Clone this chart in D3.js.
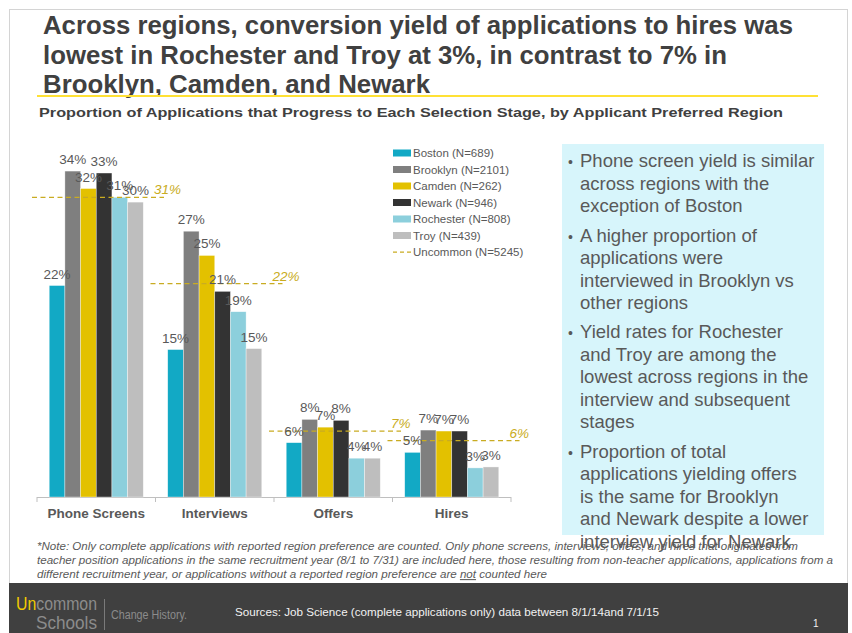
<!DOCTYPE html>
<html>
<head>
<meta charset="utf-8">
<script src="https://cdn.jsdelivr.net/npm/d3@7"></script>
<style>
  body { margin: 0; background: #fff; }
  svg { display: block; font-family: 'Liberation Sans', Arial, sans-serif; }
</style>
</head>
<body>
<div id="chart-container"></div>
<script>
const WIDTH = 852;
const HEIGHT = 633;

const STAGES = ['Phone Screens', 'Interviews', 'Offers', 'Hires'];
const REGIONS = ['Boston', 'Brooklyn', 'Camden', 'Newark', 'Rochester', 'Troy'];
const REGION_N = [689, 2101, 262, 946, 808, 439];
const COLORS = ['#12A9C5', '#7F7F7F', '#E3C100', '#333333', '#8CCFDC', '#BEBEBE'];

// percent of applications reaching each stage, one array per region
const BOSTON = [21.8, 15.2, 5.6, 4.6];
const BROOKLYN = [33.6, 27.4, 8.0, 6.9];
const CAMDEN = [31.8, 24.9, 7.2, 6.8];
const NEWARK = [33.4, 21.2, 7.9, 6.8];
const ROCHESTER = [30.9, 19.1, 4.0, 3.0];
const TROY = [30.4, 15.3, 4.0, 3.1];
const UNCOMMON = [30.9, 22.0, 6.8, 5.8];
const UNCOMMON_N = 5245;

const TITLE = [
  'Across regions, conversion yield of applications to hires was',
  'lowest in Rochester and Troy at 3%, in contrast to 7% in',
  'Brooklyn, Camden, and Newark'
];
const SUBTITLE = 'Proportion of Applications that Progress to Each Selection Stage, by Applicant Preferred Region';
const BULLETS = [
  ['Phone screen yield is similar', 'across regions with the', 'exception of Boston'],
  ['A higher proportion of', 'applications were', 'interviewed in Brooklyn vs', 'other regions'],
  ['Yield rates for Rochester', 'and Troy are among the', 'lowest across regions in the', 'interview and subsequent', 'stages'],
  ['Proportion of total', 'applications yielding offers', 'is the same for Brooklyn', 'and Newark despite a lower', 'interview yield for Newark']
];
const NOTE = [
  '*Note: Only complete applications with reported region preference are counted. Only phone screens, interviews, offers, and hires that originated from',
  'teacher position applications in the same recruitment year (8/1 to 7/31) are included here, those resulting from non-teacher applications, applications from a'
];
const SOURCE = 'Sources: Job Science (complete applications only) data between  8/1/14and 7/1/15';

const SERIES = [BOSTON, BROOKLYN, CAMDEN, NEWARK, ROCHESTER, TROY];
const TEXT_GRAY = '#595959';
const GOLD = '#C9AC22';

const svg = d3.select('#chart-container').append('svg')
  .attr('width', WIDTH)
  .attr('height', HEIGHT);

// slide frame
svg.append('rect')
  .attr('x', 9.5).attr('y', 9.5)
  .attr('width', 838).attr('height', 640)
  .attr('fill', '#fff')
  .attr('stroke', '#D4D4D4');

// title
svg.append('g').selectAll('text')
  .data(TITLE)
  .enter()
  .append('text')
  .attr('x', 43)
  .attr('y', (d, i) => 34 + i * 29.5)
  .attr('font-size', 25.5)
  .attr('font-weight', 'bold')
  .attr('fill', '#404040')
  .attr('textLength', (d, i) => [750, 684, 387][i])
  .attr('lengthAdjust', 'spacingAndGlyphs')
  .text(d => d);

svg.append('line')
  .attr('x1', 37).attr('x2', 818)
  .attr('y1', 96).attr('y2', 96)
  .attr('stroke', '#FFE135')
  .attr('stroke-width', 2);

svg.append('text')
  .attr('x', 39)
  .attr('y', 117)
  .attr('font-size', 13.5)
  .attr('font-weight', 'bold')
  .attr('fill', '#404040')
  .attr('textLength', 744)
  .attr('lengthAdjust', 'spacingAndGlyphs')
  .text(SUBTITLE);

// scales
const x0 = d3.scaleBand()
  .domain(STAGES)
  .range([37, 511]);
const x1 = d3.scaleBand()
  .domain(REGIONS)
  .range([0, x0.bandwidth()])
  .paddingInner(0)
  .paddingOuter(0.78);
const y = d3.scaleLinear()
  .domain([0, 40])
  .range([497, 109]);

const fmt = d3.format('.0f');

// axis
const xAxis = d3.axisBottom(x0)
  .tickSize(0)
  .tickPadding(11);
const axisG = svg.append('g')
  .attr('transform', 'translate(0, 497)')
  .call(xAxis);
axisG.select('.domain').attr('stroke', '#BFBFBF').attr('d', 'M37,0.5H511');
axisG.selectAll('text')
  .attr('font-family', 'Liberation Sans, Arial, sans-serif')
  .attr('font-size', 13.5)
  .attr('font-weight', 'bold')
  .attr('fill', TEXT_GRAY);
axisG.selectAll('.divider')
  .data(STAGES.concat(['end']))
  .enter()
  .append('line')
  .attr('class', 'divider')
  .attr('x1', (d, i) => i < STAGES.length ? x0(d) : x0.range()[1])
  .attr('x2', (d, i) => i < STAGES.length ? x0(d) : x0.range()[1])
  .attr('y1', 0).attr('y2', 5)
  .attr('stroke', '#BFBFBF');

// bars
const groups = svg.append('g').selectAll('g')
  .data(SERIES)
  .enter()
  .append('g')
  .attr('fill', (d, i) => COLORS[i]);

groups.each(function (values, r) {
  d3.select(this).selectAll('rect')
    .data(values)
    .enter()
    .append('rect')
    .attr('x', (d, s) => x0(STAGES[s]) + x1(REGIONS[r]))
    .attr('y', d => y(d))
    .attr('width', x1.bandwidth())
    .attr('height', d => y(0) - y(d))
    .attr('stroke', 'rgba(255,255,255,0.6)')
    .attr('stroke-width', 0.6);
});

// uncommon average lines
const avg = svg.append('g');
avg.selectAll('line')
  .data(UNCOMMON)
  .enter()
  .append('line')
  .attr('x1', (d, s) => x0(STAGES[s]) - 5)
  .attr('x2', (d, s) => x0(STAGES[s]) + 127)
  .attr('y1', d => y(d))
  .attr('y2', d => y(d))
  .attr('stroke', GOLD)
  .attr('stroke-width', 1.25)
  .attr('stroke-dasharray', '5,3.5');
avg.selectAll('text')
  .data(UNCOMMON)
  .enter()
  .append('text')
  .attr('x', (d, s) => x0(STAGES[s]) + 117)
  .attr('y', d => y(d) - 3)
  .attr('font-size', 13.5)
  .attr('font-style', 'italic')
  .attr('fill', GOLD)
  .text(d => fmt(d) + '%');

// value labels
groups.each(function (values, r) {
  svg.append('g').selectAll('text')
    .data(values)
    .enter()
    .append('text')
    .attr('x', (d, s) => x0(STAGES[s]) + x1(REGIONS[r]) + x1.bandwidth() / 2)
    .attr('y', d => y(d) - 7)
    .attr('text-anchor', 'middle')
    .attr('font-size', 13.5)
    .attr('fill', TEXT_GRAY)
    .text(d => fmt(d) + '%');
});

// legend
const legend = svg.append('g')
  .attr('transform', 'translate(393, 153)');
const legendItems = legend.selectAll('g')
  .data(REGIONS)
  .enter()
  .append('g')
  .attr('transform', (d, i) => 'translate(0, ' + (i * 16.5) + ')');
legendItems.append('rect')
  .attr('y', -3.5)
  .attr('width', 18)
  .attr('height', 7)
  .attr('fill', (d, i) => COLORS[i]);
legendItems.append('text')
  .attr('x', 20)
  .attr('y', 4)
  .attr('font-size', 11.5)
  .attr('fill', TEXT_GRAY)
  .text((d, i) => `${d} (N=${REGION_N[i]})`);
const uncommonItem = legend.append('g')
  .attr('transform', 'translate(0, ' + (REGIONS.length * 16.5) + ')');
uncommonItem.append('line')
  .attr('x1', 0).attr('x2', 18)
  .attr('stroke', GOLD)
  .attr('stroke-width', 1.25)
  .attr('stroke-dasharray', '4,3');
uncommonItem.append('text')
  .attr('x', 20)
  .attr('y', 4)
  .attr('font-size', 11.5)
  .attr('fill', TEXT_GRAY)
  .text(`Uncommon (N=${UNCOMMON_N})`);

// note
const note = svg.append('g')
  .attr('font-size', 10.5)
  .attr('font-style', 'italic')
  .attr('fill', TEXT_GRAY);
note.selectAll('text')
  .data(NOTE)
  .enter()
  .append('text')
  .attr('x', 37)
  .attr('y', (d, i) => 549.5 + i * 14.3)
  .attr('textLength', (d, i) => [761, 796][i])
  .attr('lengthAdjust', 'spacingAndGlyphs')
  .text(d => d);
const lastNote = note.append('text')
  .attr('x', 37)
  .attr('y', 549.5 + 2 * 14.3)
  .attr('textLength', 510)
  .attr('lengthAdjust', 'spacingAndGlyphs');
lastNote.append('tspan').text('different recruitment year, or applications without a reported region preference are ');
lastNote.append('tspan').attr('text-decoration', 'underline').text('not');
lastNote.append('tspan').text(' counted here');

// callout box
svg.append('rect')
  .attr('x', 562).attr('y', 144)
  .attr('width', 262).attr('height', 391)
  .attr('fill', '#D7F5FB');
const lines = [];
BULLETS.forEach((para, p) => para.forEach((text, l) => lines.push({ text, p, first: l === 0 })));
const callout = svg.append('g')
  .attr('font-size', 18.5)
  .attr('fill', TEXT_GRAY);
callout.selectAll('text.line')
  .data(lines)
  .enter()
  .append('text')
  .attr('class', 'line')
  .attr('x', 580)
  .attr('y', (d, i) => 167.3 + i * 22.5 + d.p * 6.8)
  .text(d => d.text);
callout.selectAll('text.bullet')
  .data(lines.map((d, i) => Object.assign({ i }, d)).filter(d => d.first))
  .enter()
  .append('text')
  .attr('class', 'bullet')
  .attr('x', 568)
  .attr('y', d => 167.3 + d.i * 22.5 + d.p * 6.8)
  .attr('font-size', 14)
  .text('\u2022');

// footer band
const footer = svg.append('g');
footer.append('rect')
  .attr('x', 9).attr('y', 583)
  .attr('width', 839).attr('height', 50)
  .attr('fill', '#404040');
const logo1 = footer.append('text')
  .attr('x', 16).attr('y', 610)
  .attr('font-family', "'Liberation Sans Narrow', 'Liberation Sans', sans-serif")
  .attr('font-size', 18)
  .attr('textLength', 81)
  .attr('lengthAdjust', 'spacingAndGlyphs');
logo1.append('tspan').attr('fill', '#F0CB00').text('Un');
logo1.append('tspan').attr('fill', '#8C8C8C').text('common');
footer.append('text')
  .attr('x', 36).attr('y', 629)
  .attr('font-family', "'Liberation Sans Narrow', 'Liberation Sans', sans-serif")
  .attr('font-size', 19)
  .attr('fill', '#8C8C8C')
  .attr('textLength', 61)
  .attr('lengthAdjust', 'spacingAndGlyphs')
  .text('Schools');
footer.append('line')
  .attr('x1', 104.5).attr('x2', 104.5)
  .attr('y1', 599).attr('y2', 630)
  .attr('stroke', '#7A7A7A');
footer.append('text')
  .attr('x', 111).attr('y', 619)
  .attr('font-family', "'Liberation Sans Narrow', 'Liberation Sans', sans-serif")
  .attr('font-size', 12)
  .attr('fill', '#8C8C8C')
  .attr('textLength', 76)
  .attr('lengthAdjust', 'spacingAndGlyphs')
  .text('Change History.');
footer.append('text')
  .attr('x', 235).attr('y', 615.5)
  .attr('font-size', 10.5)
  .attr('fill', '#F2F2F2')
  .attr('textLength', 424)
  .attr('lengthAdjust', 'spacingAndGlyphs')
  .text(SOURCE);
footer.append('text')
  .attr('x', 813).attr('y', 627)
  .attr('font-size', 10)
  .attr('fill', '#F2F2F2')
  .text('1');
</script>
</body>
</html>
